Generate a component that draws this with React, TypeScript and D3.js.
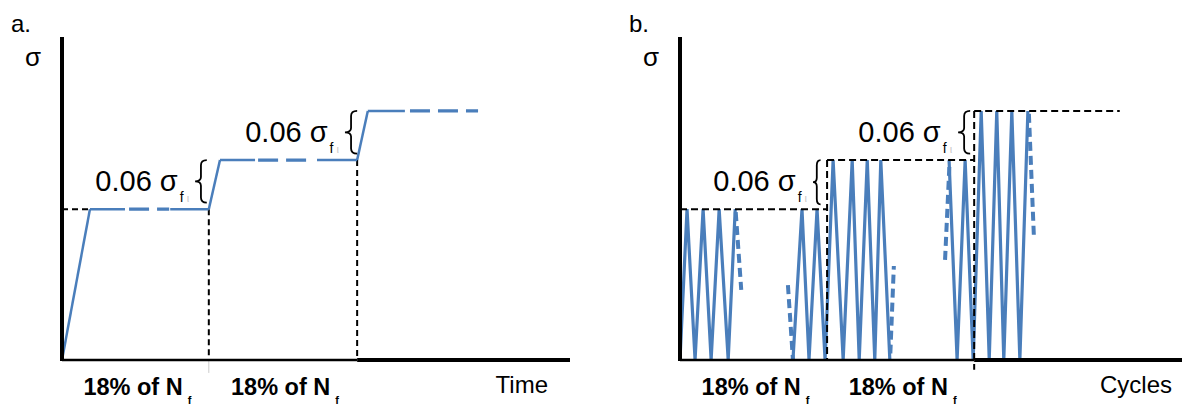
import React from "react";
import * as d3 from "d3";

// stress levels (% of axis height) and the 0.06 σf steps between them
const L1 = 46.7;
const L2 = 61.9;
const L3 = 77.1;

// panel a: ramps (solid) and the held levels (solid / dashed pieces)
const rampsA = [
  [[0, 0], [5.5, L1]],
  [[28.9, L1], [31.1, L2]],
  [[58.1, L2], [60.2, L3]],
];
const holdSolidA = [
  [5.5, 12.4, L1],
  [21.3, 28.9, L1],
  [31.1, 38.0, L2],
  [50.2, 58.1, L2],
  [60.2, 67.5, L3],
];
const holdDashedA = [
  [13.2, 21.1, L1],
  [38.6, 49.4, L2],
  [68.5, 81.9, L3],
];
const guidesA = [
  [[0, L1], [5.5, L1]],
  [[28.9, L1], [28.9, 0]],
  [[58.1, L2], [58.1, 0]],
];

// panel b: cycles, peaks at the current level, troughs at zero
const cyclesB = [
  [[0, 0], [1.4, L1], [3.0, 0], [4.6, L1], [6.2, 0], [7.8, L1], [9.6, 0], [11.0, L1]],
  [[22.5, 0], [24.3, L1], [25.7, 0], [27.3, L1], [28.9, 0], [30.5, L2], [32.5, 0], [34.3, L2],
   [35.7, 0], [37.3, L2], [38.8, 0], [40.0, L2], [41.8, 0]],
  [[53.6, L2], [55.2, 0], [56.8, L2], [58.4, 0], [60.0, L3], [61.6, 0], [63.1, L3], [64.5, 0],
   [66.1, L3], [67.7, 0], [69.3, L3]],
];
const tailsB = [
  [[11.1, 45.8], [12.2, 21.7]],
  [[21.5, 23.2], [22.5, 0]],
  [[41.9, 2], [42.6, 29.1]],
  [[52.8, 31.0], [53.7, 61.3]],
  [[69.5, 76.2], [70.5, 38.1]],
];
const guidesB = [
  [[0, L1], [29.3, L1]],
  [[29.3, L2], [29.3, 0]],
  [[29.3, L2], [58.6, L2]],
  [[58.6, L3], [58.6, -3]],
  [[58.6, L3], [87.6, L3]],
];

// braces: [t0, t1, sTop, sBottom] and the 18% intervals
const bracesA = [[26.2, 28.5, L2, L1 + 2], [55.7, 58.1, L3, L2 + 2]];
const bracesB = [[26.5, 28.0, L2, L1 + 1.5], [55.4, 57.8, L3, L2 + 2]];
const periodsA = [[0, 28.9], [28.9, 58.1]];
const periodsB = [[0, 29.3], [29.3, 58.6]];

const BLUE = "#4a7ebb";
const FONT = "'Liberation Sans', Arial, sans-serif";

const y = d3.scaleLinear().domain([0, 100]).range([360, 37]);
const line = d3.line<number[]>();

const bracePath = (x0: number, x1: number, y0: number, y1: number) => {
  const w = x1 - x0;
  const h = y1 - y0;
  const ym = (y0 + y1) / 2;
  const xm = x0 + w * 0.5;
  return `M${x1},${y0} Q${xm},${y0} ${xm},${y0 + h * 0.12} L${xm},${ym - h * 0.1} Q${xm},${ym} ${x0},${ym}` +
    ` Q${xm},${ym} ${xm},${ym + h * 0.1} L${xm},${y1 - h * 0.12} Q${xm},${y1} ${x1},${y1}`;
};

const Panel = ({ x, letter, axisEnd, thickFrom, xTitle, titleEnd, braces, periods, children }: any) => {
  const x0 = x(0);
  return (
    <g fontFamily={FONT}>
      <text x={x0 - 51} y={32} fontSize={24}>{letter}</text>
      <text x={x0 - 37} y={66} fontSize={26}>σ</text>
      {children}
      {/* axes */}
      <line x1={x0} x2={x0} y1={y(100)} y2={y(0) + 1} stroke="#000" strokeWidth={4} />
      <line x1={x0} x2={thickFrom} y1={y(0)} y2={y(0)} stroke="#000" strokeWidth={2.5} />
      <line x1={thickFrom} x2={axisEnd} y1={y(0)} y2={y(0)} stroke="#000" strokeWidth={4} />
      {braces.map((b: number[], i: number) => {
        const bx0 = x(b[0]);
        const bx1 = x(b[1]);
        const by0 = y(b[2]);
        const by1 = y(b[3]);
        return (
          <g key={i}>
            <path d={bracePath(bx0, bx1, by0, by1)} fill="none" stroke="#000" strokeWidth={1.8} />
            <text x={bx0 - 6} y={by0 + 31} fontSize={29} textAnchor="end">
              0.06 σ
              <tspan dx={2} dy={11} fontSize={14}>f</tspan>
              <tspan dx={3} fontSize={11} fill="#c8c8c8">ι</tspan>
            </text>
          </g>
        );
      })}
      {periods.map((p: number[], i: number) => (
        <text key={i} x={(x(p[0]) + x(p[1])) / 2 + 2} y={395} fontSize={23.5} fontWeight="bold" textAnchor="middle">
          18% of N
          <tspan dx={5} dy={9} fontSize={11}>f</tspan>
        </text>
      ))}
      <text x={titleEnd} y={393} fontSize={24} textAnchor="end">{xTitle}</text>
    </g>
  );
};

export default function App() {
  const xA = d3.scaleLinear().domain([0, 100]).range([62, 570]);
  const xB = d3.scaleLinear().domain([0, 100]).range([680, 1182]);
  const pA = (d: number[]) => [xA(d[0]), y(d[1])];
  const pB = (d: number[]) => [xB(d[0]), y(d[1])];

  return (
    <svg width={1182} height={405} style={{ position: "absolute", left: 0, top: 0, background: "#fff" }}>
      <Panel x={xA} letter="a." axisEnd={570} thickFrom={xA(58.1)} xTitle="Time" titleEnd={548}
        braces={bracesA} periods={periodsA}>
        {guidesA.map((g, i) => (
          <path key={i} d={line(g.map(pA)) as string} stroke="#000" strokeWidth={2} strokeDasharray="6 4" fill="none" />
        ))}
        <line x1={xA(28.9)} x2={xA(28.9)} y1={y(0)} y2={y(-4)} stroke="#ccc" strokeWidth={1} />
        {rampsA.map((r, i) => (
          <path key={i} d={line(r.map(pA)) as string} stroke={BLUE} strokeWidth={2.5} fill="none" />
        ))}
        {holdSolidA.map((h, i) => (
          <line key={i} x1={xA(h[0])} x2={xA(h[1])} y1={y(h[2])} y2={y(h[2])} stroke={BLUE} strokeWidth={2.5} />
        ))}
        {holdDashedA.map((h, i) => (
          <line key={i} x1={xA(h[0])} x2={xA(h[1])} y1={y(h[2])} y2={y(h[2])} stroke={BLUE} strokeWidth={3.2}
            strokeDasharray="20 8" />
        ))}
      </Panel>
      <Panel x={xB} letter="b." axisEnd={1182} thickFrom={xB(58.6)} xTitle="Cycles" titleEnd={1172}
        braces={bracesB} periods={periodsB}>
        {cyclesB.map((c, i) => (
          <path key={i} d={line(c.map(pB)) as string} stroke={BLUE} strokeWidth={3.2} fill="none" strokeLinejoin="miter" />
        ))}
        {tailsB.map((t, i) => (
          <path key={i} d={line(t.map(pB)) as string} stroke={BLUE} strokeWidth={4} strokeDasharray="9 5" fill="none" />
        ))}
        {guidesB.map((g, i) => (
          <path key={i} d={line(g.map(pB)) as string} stroke="#000" strokeWidth={2} strokeDasharray="7 4" fill="none" />
        ))}
      </Panel>
    </svg>
  );
}
